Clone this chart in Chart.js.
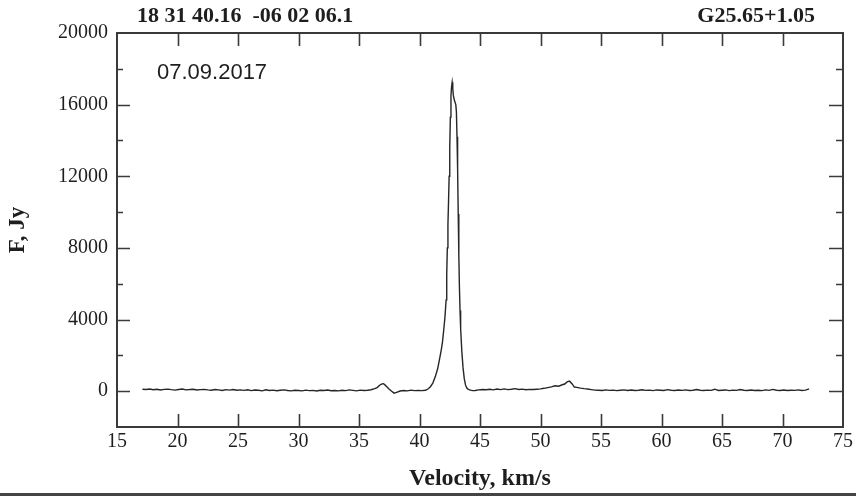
<!DOCTYPE html>
<html>
<head>
<meta charset="utf-8">
<title>G25.65+1.05 spectrum</title>
<script src="https://cdn.jsdelivr.net/npm/chart.js@4.4.0/dist/chart.umd.min.js"></script>
<style>
    html, body { margin: 0; padding: 0; background: #fff; }
    #spectrum { display: block; }
</style>
</head>
<body>
<canvas id="spectrum" width="856" height="496"></canvas>
<script>
// Source header
const sourceCoords = '18 31 40.16  -06 02 06.1';
const sourceName = 'G25.65+1.05';
const obsDate = '07.09.2017';

// Axis ranges and tick values
const velocityRange = [15, 75];
const fluxRange = [-2000, 20000];
const velocityTicks = [20, 25, 30, 35, 40, 45, 50, 55, 60, 65, 70];
const fluxMajorTicks = [0, 4000, 8000, 12000, 16000];
const fluxMinorTicks = [2000, 6000, 10000, 14000, 18000];

// Spectrum: velocity (km/s) and flux density (Jy)
const velocity = [
    17.1, 17.4, 17.7, 18.0, 18.3, 18.6, 18.9, 19.2, 19.5, 19.8,
    20.1, 20.4, 20.7, 21.0, 21.3, 21.6, 21.9, 22.2, 22.5, 22.8,
    23.1, 23.4, 23.7, 24.0, 24.3, 24.6, 24.9, 25.2, 25.5, 25.8,
    26.1, 26.4, 26.7, 27.0, 27.3, 27.6, 27.9, 28.2, 28.5, 28.8,
    29.1, 29.4, 29.7, 30.0, 30.3, 30.6, 30.9, 31.2, 31.5, 31.8,
    32.1, 32.4, 32.7, 33.0, 33.3, 33.6, 33.9, 34.2, 34.5, 34.8,
    35.1, 35.4, 35.7, 36.0, 36.3,
    36.5, 36.7, 36.9, 37.0, 37.1, 37.3, 37.5, 37.7, 37.9, 38.1, 38.4,
    38.7, 39.0, 39.3, 39.6, 39.9, 40.2,
    40.5, 40.7, 40.9, 41.1, 41.3, 41.5, 41.6, 41.7, 41.8, 41.9,
    42.0, 42.1, 42.2, 42.25, 42.3, 42.35, 42.4, 42.45, 42.5, 42.55,
    42.6, 42.65, 42.7, 42.75, 42.8, 42.9, 43.0, 43.05, 43.1, 43.15,
    43.2, 43.25, 43.3, 43.35, 43.4, 43.5, 43.6, 43.7, 43.8, 43.9,
    44.0, 44.2, 44.4,
    44.6, 44.9, 45.2, 45.5, 45.8, 46.1, 46.4, 46.7, 47.0, 47.3,
    47.6, 47.9, 48.2, 48.5, 48.8, 49.1, 49.4, 49.7, 50.0,
    50.3, 50.6, 50.9, 51.2, 51.5, 51.8, 52.0, 52.2, 52.4, 52.6,
    52.8, 53.0, 53.3, 53.6, 53.9, 54.2, 54.5,
    54.8, 55.1, 55.4, 55.7, 56.0, 56.3, 56.6, 56.9, 57.2, 57.5,
    57.8, 58.1, 58.4, 58.7, 59.0, 59.3, 59.6, 59.9, 60.2, 60.5,
    60.8, 61.1, 61.4, 61.7, 62.0, 62.3, 62.6, 62.9, 63.2, 63.5,
    63.8, 64.1, 64.4, 64.7, 65.0, 65.3, 65.6, 65.9, 66.2, 66.5,
    66.8, 67.1, 67.4, 67.7, 68.0, 68.3, 68.6, 68.9, 69.2, 69.5,
    69.8, 70.1, 70.4, 70.7, 71.0, 71.3, 71.6, 71.9, 72.2
];
const flux = [
    110, 95, 120, 80, 105, 70, 100, 115, 85, 60,
    95, 120, 75, 90, 110, 65, 85, 100, 70, 55,
    90, 75, 40, 85, 60, 95, 50, 70, 45, 80,
    30, 65, 55, 20, 75, 40, 60, 25, 50, 70,
    35, 15, 55, 40, 20, 60, 30, 45, 10, 50,
    35, 65, 25, 40, 15, 55, 30, 70, 45, 20,
    60, 35, 50, 80, 140,
    200, 330, 410, 420, 380, 250, 110, 0, -110, -70, 10,
    40, 20, 60, 30, 45, 30,
    50, 120, 250, 450, 800, 1250, 1600, 1950, 2300, 2750,
    3400, 4100, 5100, 6500, 8000, 9300, 10600, 12000, 13600, 15300,
    16500, 17000, 17250, 16900, 16500, 16200, 16000, 15600, 14200, 12400,
    9900, 7600, 5800, 4500, 3500, 2200, 1300, 700, 350, 190,
    110, 60, 30,
    40, 70, 95, 80, 110, 75, 120, 90, 130, 85,
    105, 140, 95, 115, 80, 100, 90, 110, 130,
    160, 200, 240, 300, 280, 360, 400, 520, 560, 420,
    230, 210, 170, 140, 120, 90, 60,
    50, 40, 70, 45, 60, 30, 55, 75, 40, 65,
    35, 50, 80, 45, 60, 30, 70, 55, 40, 85,
    50, 35, 65, 45, 75, 40, 55, 90, 50, 35,
    60, 45, 110, 40, 55, 70, 30, 60, 45, 95,
    50, 35, 65, 40, 55, 30, 70, 45, 100, 50,
    40, 65, 35, 55, 45, 75, 40, 60, 130
];

const ink = '#1e1e1e';
const serif = '"Liberation Serif", "Times New Roman", serif';
const sans = '"Liberation Sans", Arial, sans-serif';

// Frame, inward ticks and header text
const framePlugin = {
    id: 'frame',
    afterDraw(chart) {
        const ctx = chart.ctx;
        const area = chart.chartArea;
        const xs = chart.scales.x;
        const ys = chart.scales.y;

        ctx.save();
        ctx.strokeStyle = '#3a3a3a';
        ctx.lineWidth = 2;
        ctx.strokeRect(area.left, area.top, area.right - area.left, area.bottom - area.top);

        ctx.lineWidth = 1.6;
        ctx.beginPath();
        velocityTicks.forEach(v => {
            const px = Math.round(xs.getPixelForValue(v)) + 0.5;
            ctx.moveTo(px, area.bottom);
            ctx.lineTo(px, area.bottom - 13);
            ctx.moveTo(px, area.top);
            ctx.lineTo(px, area.top + 13);
        });
        fluxMajorTicks.forEach(f => {
            const py = Math.round(ys.getPixelForValue(f)) + 0.5;
            ctx.moveTo(area.left, py);
            ctx.lineTo(area.left + 13, py);
            ctx.moveTo(area.right, py);
            ctx.lineTo(area.right - 14, py);
        });
        fluxMinorTicks.forEach(f => {
            const py = Math.round(ys.getPixelForValue(f)) + 0.5;
            ctx.moveTo(area.left, py);
            ctx.lineTo(area.left + 6, py);
            ctx.moveTo(area.right, py);
            ctx.lineTo(area.right - 7, py);
        });
        ctx.stroke();

        // bottom rule under the figure
        ctx.strokeStyle = '#444';
        ctx.lineWidth = 3;
        ctx.beginPath();
        ctx.moveTo(0, 494.5);
        ctx.lineTo(856, 494.5);
        ctx.stroke();

        ctx.fillStyle = ink;
        ctx.textBaseline = 'middle';
        ctx.font = 'bold 22px ' + serif;
        ctx.textAlign = 'left';
        ctx.fillText(sourceCoords, 137, 16);
        ctx.textAlign = 'right';
        ctx.fillText(sourceName, 815, 16);

        ctx.font = '22px ' + sans;
        ctx.textAlign = 'left';
        ctx.fillText(obsDate, 157, 73);
        ctx.restore();
    }
};

const ctx = document.getElementById('spectrum').getContext('2d');
const points = velocity.map((v, i) => ({ x: v, y: flux[i] }));

const spectrumChart = new Chart(ctx, {
    type: 'scatter',
    data: {
        datasets: [{
            data: points,
            showLine: true,
            borderColor: '#262626',
            borderWidth: 1.4,
            pointRadius: 0,
            tension: 0
        }]
    },
    options: {
        responsive: false,
        animation: false,
        layout: {
            padding: { top: 33, right: 11, left: 0, bottom: 0 }
        },
        plugins: {
            legend: { display: false },
            tooltip: { enabled: false }
        },
        scales: {
            x: {
                type: 'linear',
                min: velocityRange[0],
                max: velocityRange[1],
                grid: { display: false, drawTicks: false },
                border: { display: false },
                ticks: {
                    stepSize: 5,
                    padding: 3,
                    color: ink,
                    font: { family: serif, size: 20 },
                    callback: value => String(value)
                },
                title: {
                    display: true,
                    text: 'Velocity, km/s',
                    color: ink,
                    font: { family: serif, size: 24, weight: 'bold' },
                    padding: { top: 0, bottom: 3 }
                },
                afterFit: scale => { scale.height = 69; }
            },
            y: {
                min: fluxRange[0],
                max: fluxRange[1],
                grid: { display: false, drawTicks: false },
                border: { display: false },
                ticks: {
                    stepSize: 2000,
                    autoSkip: false,
                    padding: 9,
                    color: ink,
                    font: { family: serif, size: 20 },
                    callback: value => (value % 4000 === 0 && value >= 0) ? String(value) : ''
                },
                title: {
                    display: true,
                    text: 'F, Jy',
                    color: ink,
                    font: { family: serif, size: 23, weight: 'bold' },
                    padding: { top: 4, bottom: 0 }
                },
                afterFit: scale => { scale.width = 117; }
            }
        }
    },
    plugins: [framePlugin]
});
</script>
</body>
</html>
